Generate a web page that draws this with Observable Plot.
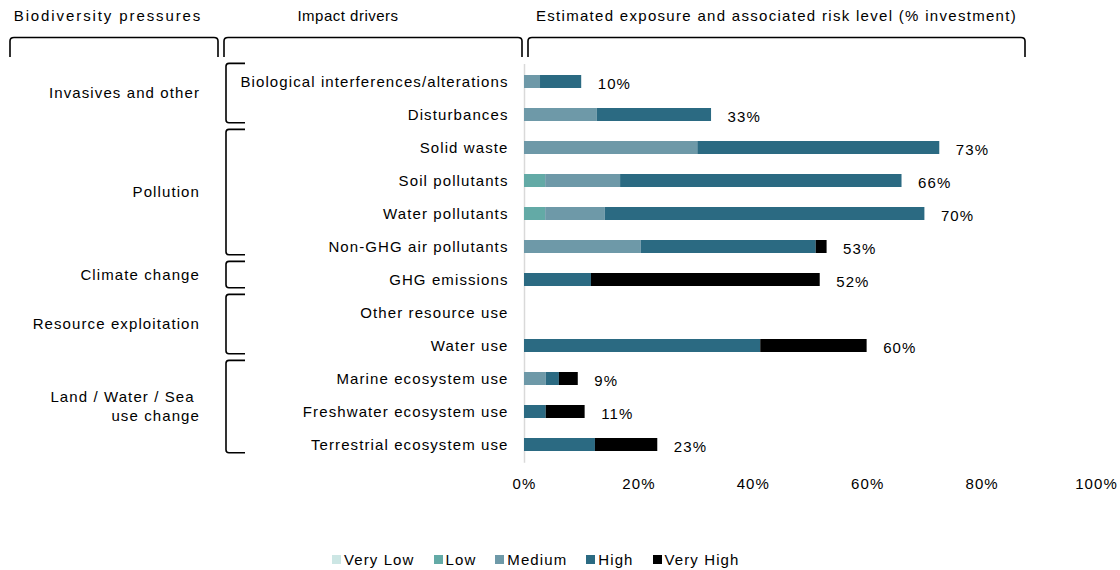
<!DOCTYPE html>
<html><head><meta charset="utf-8">
<script src="https://cdn.jsdelivr.net/npm/d3@7"></script>
<script src="https://cdn.jsdelivr.net/npm/@observablehq/plot@0.6"></script>
<style>
body{margin:0;background:#fff;font-family:"Liberation Sans",Arial,sans-serif;}
#chart svg{display:block;}
#legend{height:67px;box-sizing:border-box;padding-top:46px;padding-left:332px;display:flex;align-items:center;font-size:15px;letter-spacing:1.1px;color:#000;line-height:20px;}
#legend .item{display:flex;align-items:center;margin-right:19px;}
#legend .sw{width:9px;height:9px;margin-right:3px;}
</style></head><body>
<div id="chart"></div>
<div id="legend"></div>
<script>
const drivers = ["Biological interferences/alterations","Disturbances","Solid waste","Soil pollutants","Water pollutants","Non-GHG air pollutants","GHG emissions","Other resource use","Water use","Marine ecosystem use","Freshwater ecosystem use","Terrestrial ecosystem use"];
const pressures = ["Invasives and other","Pollution","Climate change","Resource exploitation","Land / Water / Sea\u00a0|use change"];
const groupSizes = [2,4,1,2,3];
const levels = ["Very Low","Low","Medium","High","Very High"];
const levelColors = ["#cce6e4","#63aaa6","#6e99a8","#2b6a82","#000000"];
const veryLow  = [0,0,0,0,0,0,0,0,0,0,0,0];
const low      = [0,0,0,3.7,3.7,0,0,0,0,0,0,0];
const medium   = [2.8,12.7,30.3,13.1,10.4,20.4,0,0,0,3.8,0,0];
const high     = [7.2,20,42.3,49.2,55.9,30.6,11.7,0,41.3,2.3,3.8,12.4];
const veryHigh = [0,0,0,0,0,1.9,40,0,18.6,3.3,6.8,10.9];
const totalLabels = [10,33,73,66,70,53,52,null,60,9,11,23];
const xTicks = [0,20,40,60,80,100];
const headers = ["Biodiversity pressures","Impact drivers","Estimated exposure and associated risk level (% investment)"];

const series = [veryLow, low, medium, high, veryHigh];
const rows = drivers.flatMap((d,i) => levels.map((l,k) => ({driver:d, level:l, value:series[k][i]})));
const totals = drivers.map((d,i) => ({driver:d, total:series.reduce((s,a)=>s+a[i],0), label:totalLabels[i]})).filter(r => r.label != null);

const font = '"Liberation Sans", Arial, sans-serif';
const chart = Plot.plot({
  width:1120, height:503,
  marginLeft:524, marginRight:24, marginTop:64, marginBottom:40.3,
  x:{domain:[0,100]},
  y:{domain:drivers, paddingInner:0.6, paddingOuter:0.3, axis:null},
  color:{domain:levels, range:levelColors},
  style:{fontFamily:font, fontSize:"15px", letterSpacing:"1.1px", color:"#000", background:"#fff", overflow:"visible"},
  marks:[
    Plot.ruleX([0], {stroke:"#d9d9d9", strokeWidth:1.5}),
    Plot.barX(rows, Plot.stackX({x:"value", y:"driver", fill:"level", order:levels})),
    Plot.text(drivers, {x:0, y:d=>d, text:d=>d, textAnchor:"end", dx:-16, fontSize:15, fill:"#000"}),
    Plot.text(totals, {x:"total", y:"driver", text:d=>d.label+"%", textAnchor:"start", dx:16, dy:2, fontSize:15, fill:"#000"}),
    Plot.axisX({ticks:xTicks, tickFormat:d=>d+"%", tickSize:0, tickPadding:15, fontSize:15, fill:"#000"})
  ]
});
document.getElementById("chart").appendChild(chart);

// Decorations: headers, brackets, pressure labels
const svg = d3.select(chart);
const y = chart.scale("y");
const step = y.step;
const center = d => y.apply(d) + y.bandwidth/2;
const g = svg.append("g").attr("fill","none").attr("stroke","#000").attr("stroke-width",1.6);
const tg = svg.append("g").attr("font-family",font).attr("font-size",15).attr("fill","#000");

const headerSpans = [[10,218],[224,522],[528,1025]];
const headerShift = [-6,-25,0];
const headerSpacing = ["1.9px","0.5px","1.3px"];
headerSpans.forEach(([a,b],i) => {
  g.append("path").attr("d",`M${a},57 L${a},41 Q${a},37.5 ${a+4},37.5 L${b-4},37.5 Q${b},37.5 ${b},41 L${b},57`);
  tg.append("text").attr("x",(a+b)/2 + headerShift[i]).attr("y",16).attr("dy","0.35em").attr("text-anchor","middle").attr("letter-spacing",headerSpacing[i]).text(headers[i]);
});

let idx = 0;
pressures.forEach((p,gi) => {
  const first = drivers[idx], last = drivers[idx+groupSizes[gi]-1];
  idx += groupSizes[gi];
  const top = center(first) - step*0.55, bot = center(last) + step*0.25;
  g.append("path").attr("d",`M245,${top} L229,${top} Q226,${top} 226,${top+3} L226,${bot-3} Q226,${bot} 229,${bot} L245,${bot}`);
  const lines = p.split("|");
  const mid = (top+bot)/2;
  lines.forEach((ln,li) => {
    tg.append("text").attr("x",200).attr("y", mid + (li-(lines.length-1)/2)*19).attr("dy","0.35em").attr("text-anchor","end").attr("letter-spacing","1.1px").text(ln);
  });
});

// Legend
const leg = d3.select("#legend");
levels.forEach((l,i) => {
  const it = leg.append("div").attr("class","item");
  it.append("div").attr("class","sw").style("background",levelColors[i]);
  it.append("span").text(l);
});
</script>
</body></html>
